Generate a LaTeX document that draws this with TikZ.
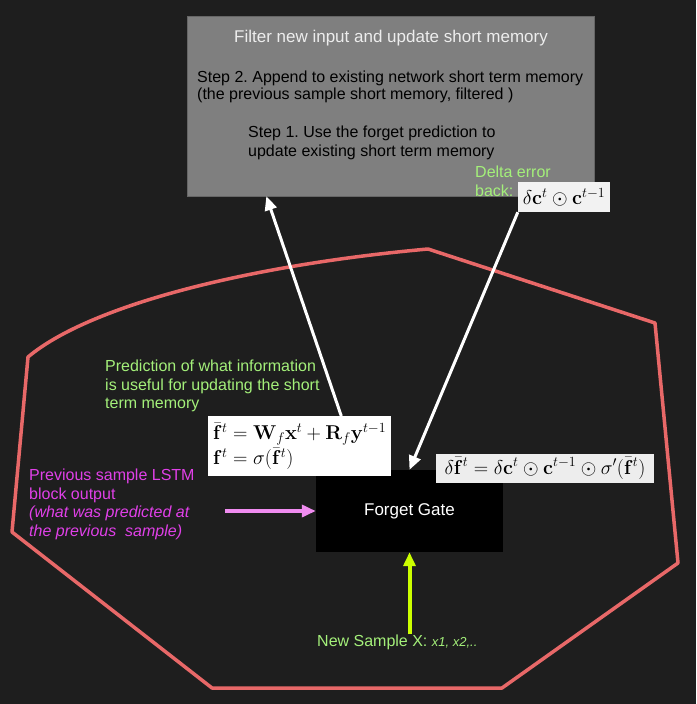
\RequirePackage{fix-cm}
\documentclass[tikz,border=0pt]{standalone}
\usepackage{amsmath,amssymb}
\usepackage[no-math]{fontspec}
\setmainfont{Liberation Sans}
\usepackage{tikz}
\usetikzlibrary{positioning,arrows.meta}
\definecolor{bgdark}{HTML}{1E1E1E}
\definecolor{memgray}{HTML}{7F7F7F}
\definecolor{cellred}{HTML}{E86868}
\definecolor{notegreen}{HTML}{A4F07A}
\definecolor{notepink}{HTML}{E040E8}
\definecolor{arrowpink}{HTML}{F08CF0}
\definecolor{inputlime}{HTML}{CCFF00}
\newcommand{\vect}[1]{\mathbf{#1}}
\frenchspacing

\begin{document}
\begin{tikzpicture}[x=1pt,y=-1pt,
    txt/.style={inner sep=0pt, align=left, anchor=north west, font=\fontsize{16}{18.5}\selectfont},
    note/.style={txt, text=notegreen},
    prevnote/.style={txt, text=notepink},
    memblock/.style={fill=memgray, draw=black!60, minimum width=407pt, minimum height=180pt},
    gate/.style={fill=black, text=white, minimum width=187pt, minimum height=82pt, font=\fontsize{17}{19}\selectfont},
    mathbox/.style={fill=#1, inner sep=4pt, font=\fontsize{20}{25}\selectfont},
    mathbox/.default=white,
    backarrow/.style={draw=white, line width=3pt, -{Triangle[length=14pt,width=12pt]}},
    cellline/.style={draw=cellred, line width=3.5pt, line join=round}]
  % Background
  \fill[bgdark] (0,0) rectangle (696,704);
  \useasboundingbox (0,0) rectangle (696,704);

  % Cell outline
  \draw[cellline] (28,357) .. controls (90,305) and (250,265) .. (428,249)
    -- (655,323) -- (678,563) -- (502,688) -- (212,688) -- (12,532) -- cycle;

  % Define nodes
  \node[memblock]                 (filter) at (390.5,106) {};
  \node[txt, anchor=center, text=white!93!black, font=\fontsize{17}{19}\selectfont] (ftitle) at (391,38) {Filter new input and update short memory};
  \node[txt, font=\fontsize{16}{17}\selectfont] (step2) at (197,71) {Step 2. Append to existing network short term memory\\(the previous sample short memory, filtered )};
  \node[txt, font=\fontsize{16}{19}\selectfont] (step1) at (248,126) {Step 1. Use the forget prediction to\\update existing short term memory};
  \node[note]                     (delta) at (475,166) {Delta error\\back:};
  \node[mathbox=white!95!black, minimum width=92pt, minimum height=30pt] (dcbox) at (564,197)
    {$\delta\vect{c}^t \odot \vect{c}^{t-1}$};

  \node[gate]                     (fgate) at (409.5,511) {Forget Gate};
  \node[mathbox, anchor=north west, text width=173pt, align=left, inner sep=5pt,
        minimum height=60pt]      (fbar) at (208,416)
    {$\bar{\vect{f}}^t = \vect{W}_f\vect{x}^t + \vect{R}_f\vect{y}^{t-1}$\\
     $\vect{f}^t = \sigma(\bar{\vect{f}}^t)$};
  \node[mathbox=white!93!black, minimum width=218pt, minimum height=29pt] (dfbox) at (545,468.5)
    {$\delta\bar{\vect{f}}^t = \delta\vect{c}^t \odot \vect{c}^{t-1} \odot \sigma'(\bar{\vect{f}}^t)$};

  \node[note]                     (pred) at (105,360) {Prediction of what information\\is useful for updating the short\\term memory};
  \node[prevnote]                 (prev) at (29,469) {Previous sample LSTM\\block output\\\textit{(what was predicted at}\\\textit{the previous\ \ sample)}};
  \coordinate[left=91pt of fgate.west] (prevout);
  \node[txt, anchor=west, text=notegreen] (newx) at (317,642) {New Sample X: {\fontsize{13}{15}\selectfont\itshape x1, x2,..}};

  % Connect the nodes
  \draw[backarrow] (fbar.36) -- (filter.216);
  \draw[backarrow] (dcbox.south west) -- (fgate.north);
  \draw[draw=arrowpink, line width=4pt, -{Triangle[length=14pt,width=12pt]}] (prevout) -- (fgate.west);
  \draw[draw=inputlime, line width=4pt, -{Triangle[length=14pt,width=12pt]}] (newx.north -| fgate.south) -- (fgate.south);
\end{tikzpicture}
\end{document}
